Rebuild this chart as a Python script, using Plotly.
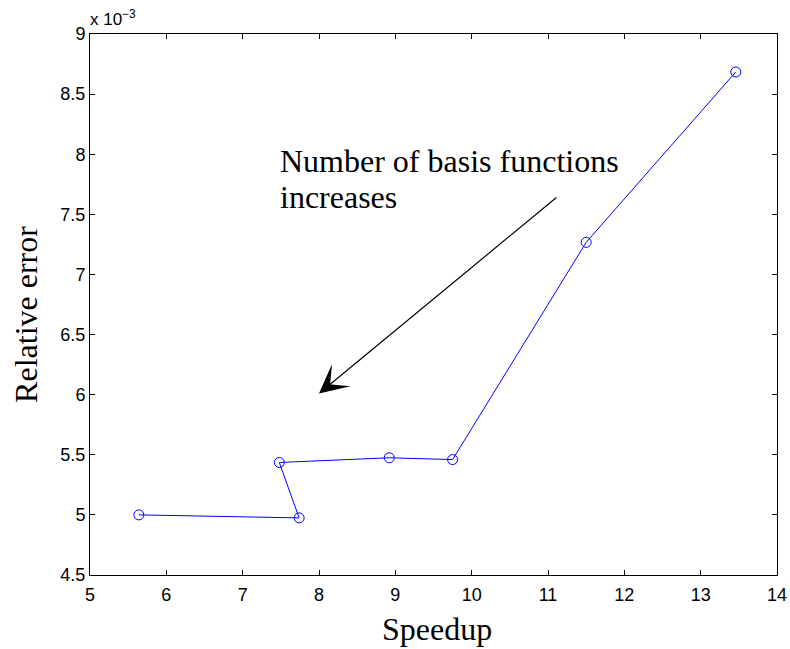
import plotly.graph_objects as go

speedup = [5.64, 7.74, 7.48, 8.92, 9.75, 11.50, 13.46]
rel_error = [5.00, 4.975, 5.436, 5.475, 5.46, 7.267, 8.684]  # x 1e-3

x_ticks = [5, 6, 7, 8, 9, 10, 11, 12, 13, 14]
y_ticks = [4.5, 5, 5.5, 6, 6.5, 7, 7.5, 8, 8.5, 9]
y_tick_text = ["4.5", "5", "5.5", "6", "6.5", "7", "7.5", "8", "8.5", "9"]

arrow_tail = (11.13, 7.65)
arrow_head = (8.0, 6.01)

fig = go.Figure()
fig.add_trace(go.Scatter(
    x=speedup, y=rel_error, mode="lines+markers",
    line=dict(color="#0000ff", width=1),
    marker=dict(symbol="circle-open", size=10, color="#0000ff", line=dict(width=1)),
    showlegend=False,
))

sans = "Liberation Sans, Arial, sans-serif"
serif = "Liberation Serif, Times New Roman, serif"

axis_common = dict(
    showgrid=False, zeroline=False, showline=True, linecolor="black", linewidth=1,
    mirror="ticks", ticks="inside", ticklen=5, tickcolor="black", tickwidth=1,
    tickfont=dict(family=sans, size=18, color="black"), automargin=False,
    ticklabeloverflow="allow",
)

fig.update_layout(
    width=790, height=649,
    margin=dict(l=90, r=13, t=34, b=74, autoexpand=False),
    plot_bgcolor="white", paper_bgcolor="white",
    xaxis=dict(range=[5, 14], tickvals=x_ticks, ticklabelstandoff=3, **axis_common),
    yaxis=dict(range=[4.5, 9], tickvals=y_ticks, ticktext=y_tick_text, ticklabelstandoff=0, **axis_common),
)

# axis titles
fig.add_annotation(
    x=0.505, y=-0.099, xref="paper", yref="paper", xanchor="center", yanchor="middle",
    text="Speedup", showarrow=False, font=dict(family=serif, size=32, color="black"),
)
fig.add_annotation(
    x=-0.093, y=0.481, xref="paper", yref="paper", xanchor="center", yanchor="middle",
    text="Relative error", textangle=-90, showarrow=False, font=dict(family=serif, size=32, color="black"),
)

fig.add_annotation(
    x=arrow_head[0], y=arrow_head[1], ax=arrow_tail[0], ay=arrow_tail[1],
    xref="x", yref="y", axref="x", ayref="y",
    showarrow=True, arrowhead=3, arrowsize=4, arrowwidth=1.2, arrowcolor="black", text="",
)
fig.add_annotation(
    x=0.274, y=7.945, xref="paper", yref="y", xanchor="left", yanchor="middle",
    text="Number of basis functions", showarrow=False,
    font=dict(family=serif, size=32, color="black"),
)
fig.add_annotation(
    x=0.274, y=7.645, xref="paper", yref="y", xanchor="left", yanchor="middle",
    text="increases", showarrow=False,
    font=dict(family=serif, size=32, color="black"),
)
fig.add_annotation(
    x=0, y=1, xref="paper", yref="paper", xanchor="left", yanchor="bottom",
    text="x 10<sup>\u22123</sup>", showarrow=False, yshift=3, xshift=-2,
    font=dict(family=sans, size=17, color="black"),
)

fig.write_html(
    "out.html",
    config={"displayModeBar": False},
    post_script="document.body.style.margin='0';document.body.style.overflow='hidden';",
)
